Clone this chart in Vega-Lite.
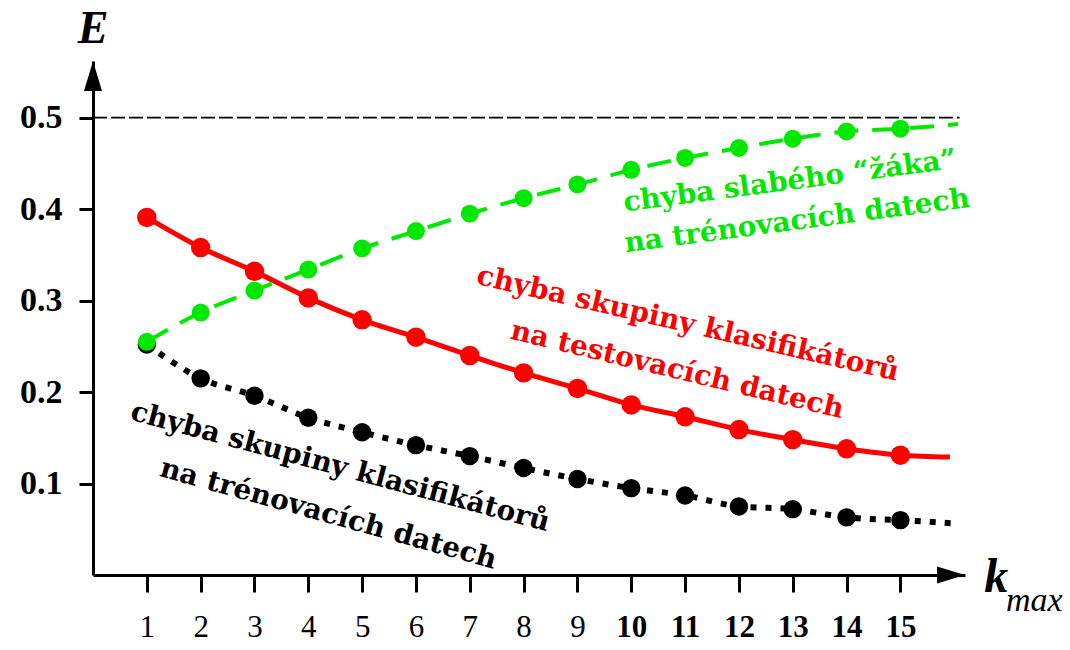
{
  "$schema": "https://vega.github.io/schema/vega-lite/v6.json",
  "width": 872,
  "height": 514,
  "autosize": "none",
  "padding": {"left": 93, "top": 61, "right": 105, "bottom": 75},
  "background": "white",
  "config": {"view": {"stroke": null}},
  "datasets": {
    "green": [
      {"k": 1, "E": 0.255, "pt": 1}, {"k": 2, "E": 0.287, "pt": 1}, {"k": 3, "E": 0.311, "pt": 1},
      {"k": 4, "E": 0.334, "pt": 1}, {"k": 5, "E": 0.357, "pt": 1}, {"k": 6, "E": 0.376, "pt": 1},
      {"k": 7, "E": 0.395, "pt": 1}, {"k": 8, "E": 0.412, "pt": 1}, {"k": 9, "E": 0.427, "pt": 1},
      {"k": 10, "E": 0.443, "pt": 1}, {"k": 11, "E": 0.456, "pt": 1}, {"k": 12, "E": 0.467, "pt": 1},
      {"k": 13, "E": 0.477, "pt": 1}, {"k": 14, "E": 0.485, "pt": 1}, {"k": 15, "E": 0.488, "pt": 1},
      {"k": 16.07, "E": 0.493, "pt": 0}
    ],
    "red": [
      {"k": 1, "E": 0.391, "pt": 1}, {"k": 2, "E": 0.358, "pt": 1}, {"k": 3, "E": 0.332, "pt": 1},
      {"k": 4, "E": 0.303, "pt": 1}, {"k": 5, "E": 0.279, "pt": 1}, {"k": 6, "E": 0.260, "pt": 1},
      {"k": 7, "E": 0.240, "pt": 1}, {"k": 8, "E": 0.221, "pt": 1}, {"k": 9, "E": 0.204, "pt": 1},
      {"k": 10, "E": 0.186, "pt": 1}, {"k": 11, "E": 0.173, "pt": 1}, {"k": 12, "E": 0.159, "pt": 1},
      {"k": 13, "E": 0.148, "pt": 1}, {"k": 14, "E": 0.138, "pt": 1}, {"k": 15, "E": 0.131, "pt": 1},
      {"k": 15.92, "E": 0.129, "pt": 0}
    ],
    "black": [
      {"k": 1, "E": 0.252, "pt": 1}, {"k": 2, "E": 0.215, "pt": 1}, {"k": 3, "E": 0.196, "pt": 1},
      {"k": 4, "E": 0.172, "pt": 1}, {"k": 5, "E": 0.156, "pt": 1}, {"k": 6, "E": 0.142, "pt": 1},
      {"k": 7, "E": 0.130, "pt": 1}, {"k": 8, "E": 0.117, "pt": 1}, {"k": 9, "E": 0.105, "pt": 1},
      {"k": 10, "E": 0.095, "pt": 1}, {"k": 11, "E": 0.087, "pt": 1}, {"k": 12, "E": 0.075, "pt": 1},
      {"k": 13, "E": 0.072, "pt": 1}, {"k": 14, "E": 0.063, "pt": 1}, {"k": 15, "E": 0.060, "pt": 1},
      {"k": 16.1, "E": 0.056, "pt": 0}
    ],
    "ref": [{"k": 0, "E": 0.5}, {"k": 16.1, "E": 0.5}],
    "arrowx": [{"k": 15.94, "E": 0}],
    "arrowy": [{"k": 0, "E": 0.5456}],
    "labels": [
      {"k": 12.95, "E": 0.430, "t": "chyba slabého “žáka”", "c": "#00e800", "a": -7.5},
      {"k": 13.08, "E": 0.3865, "t": "na trénovacích datech", "c": "#00e800", "a": -7.5},
      {"k": 11.05, "E": 0.274, "t": "chyba skupiny klasifikátorů", "c": "#ff0000", "a": 13},
      {"k": 10.85, "E": 0.2235, "t": "na testovacích datech", "c": "#ff0000", "a": 13.5},
      {"k": 4.59, "E": 0.1175, "t": "chyba skupiny klasifikátorů", "c": "#000000", "a": 15},
      {"k": 4.37, "E": 0.066, "t": "na trénovacích datech", "c": "#000000", "a": 15.5}
    ],
    "titles": [
      {"k": 0, "E": 0.5975, "t": "E", "s": 46},
      {"k": 16.78, "E": -0.003, "t": "k", "s": 48}
    ],
    "sub": [{"k": 16.96, "E": -0.028, "t": "max"}]
  },
  "encoding": {
    "x": {
      "field": "k", "type": "quantitative",
      "scale": {"domain": [0, 16.2], "nice": false, "zero": false},
      "axis": {
        "values": [1, 2, 3, 4, 5, 6, 7, 8, 9, 10, 11, 12, 13, 14, 15],
        "title": null, "grid": false,
        "domainColor": "black", "domainWidth": 3,
        "tickColor": "black", "tickWidth": 3, "tickSize": 17,
        "labelFont": "Liberation Serif", "labelFontSize": 31, "labelColor": "black",
        "labelPadding": 20,
        "labelFontWeight": {"condition": {"test": "datum.value >= 10", "value": "bold"}, "value": "normal"}
      }
    },
    "y": {
      "field": "E", "type": "quantitative",
      "scale": {"domain": [0, 0.562], "nice": false, "zero": false},
      "axis": {
        "values": [0.1, 0.2, 0.3, 0.4, 0.5],
        "format": ".1f",
        "title": null, "grid": false,
        "domainColor": "black", "domainWidth": 3,
        "tickColor": "black", "tickWidth": 3, "tickSize": 14,
        "labelFont": "Liberation Serif", "labelFontSize": 34, "labelColor": "black",
        "labelFontWeight": "bold", "labelPadding": 17
      }
    }
  },
  "layer": [
    {
      "data": {"name": "ref"},
      "mark": {"type": "line", "color": "black", "strokeWidth": 1.8, "strokeDash": [14, 4]}
    },
    {
      "data": {"name": "black"},
      "mark": {"type": "line", "color": "black", "strokeWidth": 6, "strokeDash": [6, 9], "interpolate": "monotone"}
    },
    {
      "data": {"name": "black"},
      "transform": [{"filter": "datum.pt == 1"}],
      "mark": {"type": "point", "filled": true, "opacity": 1, "color": "black", "size": 340, "shape": "circle"}
    },
    {
      "data": {"name": "red"},
      "mark": {"type": "line", "color": "#ff0000", "strokeWidth": 5, "interpolate": "monotone"}
    },
    {
      "data": {"name": "red"},
      "transform": [{"filter": "datum.pt == 1"}],
      "mark": {"type": "point", "filled": true, "opacity": 1, "color": "#ff0000", "size": 380, "shape": "circle"}
    },
    {
      "data": {"name": "green"},
      "mark": {"type": "line", "color": "#00e800", "strokeWidth": 4, "strokeDash": [24, 14], "interpolate": "monotone"}
    },
    {
      "data": {"name": "green"},
      "transform": [{"filter": "datum.pt == 1"}],
      "mark": {"type": "point", "filled": true, "opacity": 1, "color": "#00e800", "size": 324, "shape": "circle"}
    },
    {
      "data": {"name": "arrowx"},
      "mark": {"type": "point", "filled": true, "opacity": 1, "color": "black", "size": 784, "shape": "M1,0L-1,-0.6L-1,0.6Z"}
    },
    {
      "data": {"name": "arrowy"},
      "mark": {"type": "point", "filled": true, "opacity": 1, "color": "black", "size": 900, "shape": "M0,-1L-0.6,1L0.6,1Z"}
    },
    {
      "data": {"name": "labels"},
      "mark": {"type": "text", "font": "DejaVu Serif", "fontWeight": "bold", "fontSize": 28, "align": "center", "baseline": "middle"},
      "encoding": {
        "text": {"field": "t"},
        "color": {"field": "c", "type": "nominal", "scale": null},
        "angle": {"field": "a", "type": "quantitative", "scale": null}
      }
    },
    {
      "data": {"name": "titles"},
      "mark": {"type": "text", "font": "Liberation Serif", "fontWeight": "bold", "fontStyle": "italic", "align": "center", "baseline": "middle", "color": "black"},
      "encoding": {
        "text": {"field": "t"},
        "size": {"field": "s", "type": "quantitative", "scale": null}
      }
    },
    {
      "data": {"name": "sub"},
      "mark": {"type": "text", "font": "Liberation Serif", "fontStyle": "italic", "fontSize": 34, "align": "left", "baseline": "middle", "color": "black"},
      "encoding": {"text": {"field": "t"}}
    }
  ]
}
